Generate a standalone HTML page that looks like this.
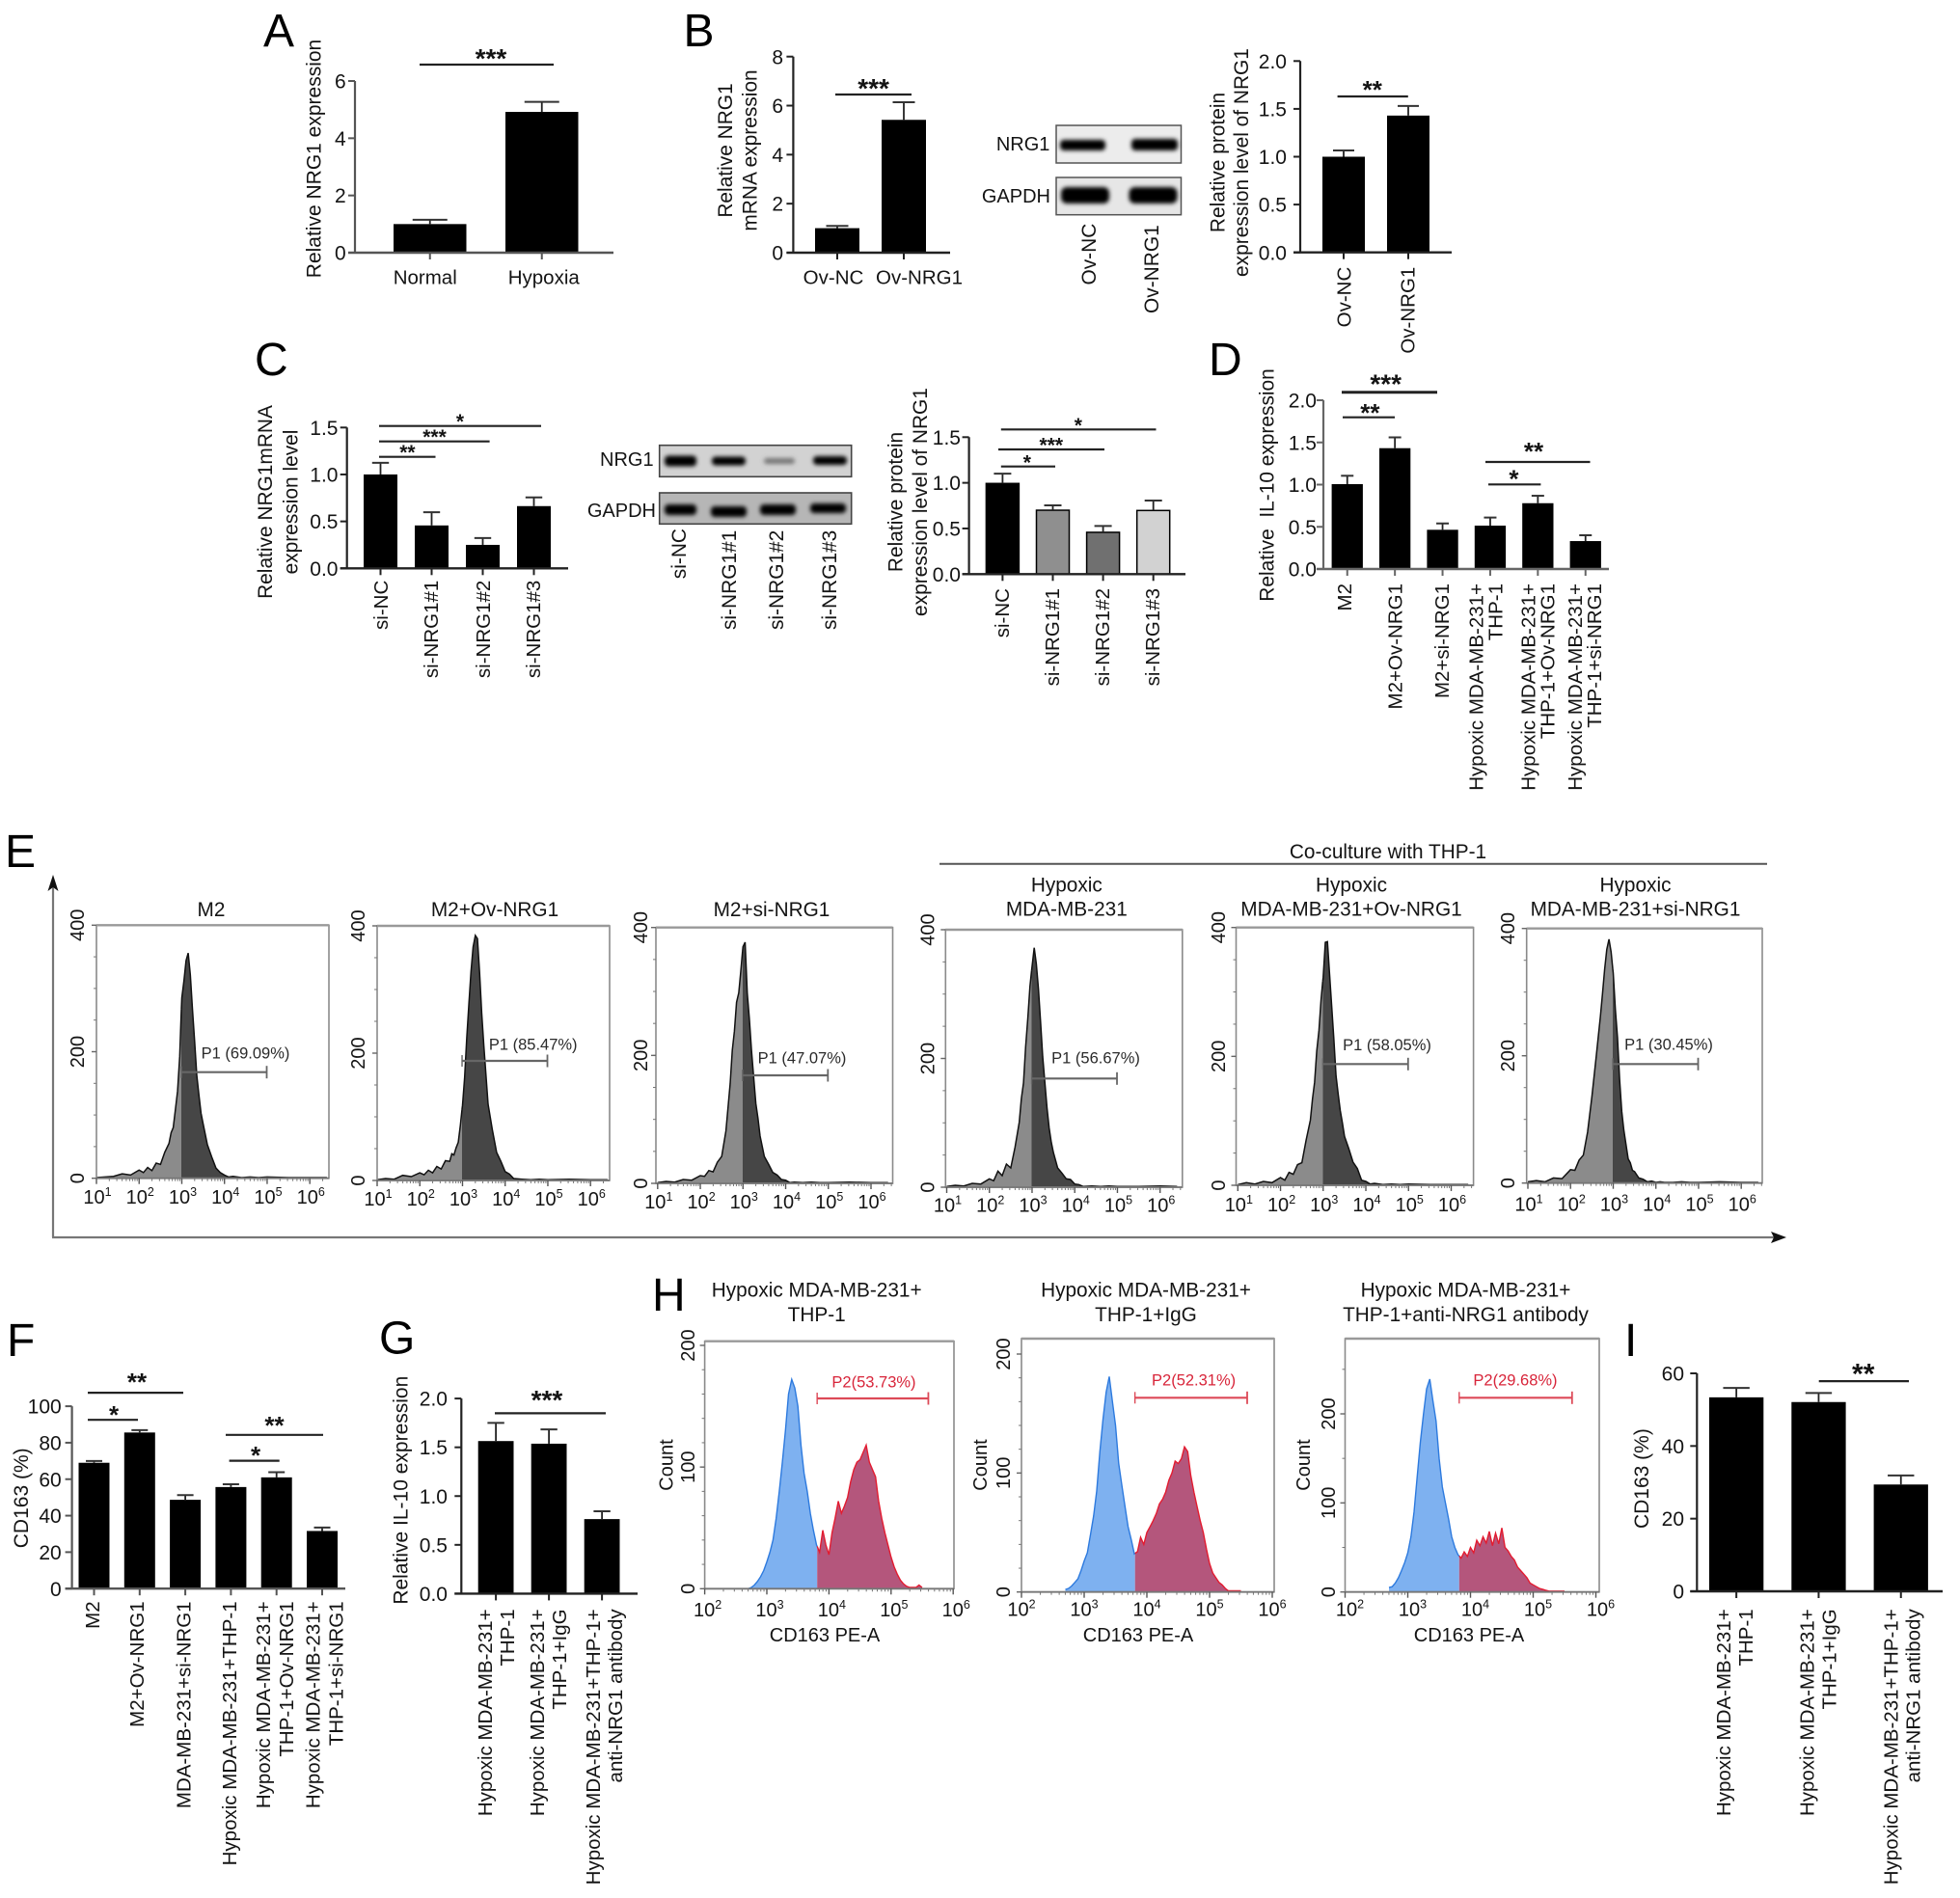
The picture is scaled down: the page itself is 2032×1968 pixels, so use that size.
<!DOCTYPE html>
<html lang="en">
<head>
<meta charset="utf-8">
<title>NRG1 figure</title>
<style>
html,body{margin:0;padding:0;background:#fff;}
svg{display:block;}
text{font-family:"Liberation Sans",sans-serif;fill:#141414;}
.letter{font-size:48px;fill:#000;}
.t20{font-size:20px;}
.t205{font-size:20.9px;}
.t208{font-size:20.8px;}
.t21{font-size:21px;}
.p1{font-size:16.5px;fill:#2a2a2a;}
.p2{font-size:16.5px;fill:#d8253a;}
</style>
</head>
<body>
<svg id="figure" xmlns="http://www.w3.org/2000/svg" width="2032" height="1968" viewBox="0 0 2032 1968">
<defs>
<filter id="blur1" x="-20%" y="-80%" width="140%" height="260%"><feGaussianBlur stdDeviation="2"/></filter>
</defs>
<rect x="0" y="0" width="2032" height="1968" fill="#fff"/>

<g id="panel-a">
<text class="letter" x="273" y="48">A</text>
<text class="t21" transform="translate(332.5,164.5) rotate(-90)" text-anchor="middle">Relative NRG1 expression</text>
</g>

<g id="panel-b-mrna">
<text class="letter" x="708.5" y="48">B</text>
<text class="t205" transform="translate(758.9,156) rotate(-90)" text-anchor="middle">Relative NRG1</text>
<text class="t205" transform="translate(784.4,156) rotate(-90)" text-anchor="middle">mRNA expression</text>
</g>

<g id="panel-b-blot">
<text class="t20" x="1088.4" y="156" text-anchor="end">NRG1</text>
<text class="t20" x="1089" y="210" text-anchor="end">GAPDH</text>
<rect x="1095" y="130" width="129.5" height="39" fill="#ececec" stroke="#555" stroke-width="1.5"/>
<rect x="1095" y="184" width="129.5" height="38.7" fill="#e6e6e6" stroke="#555" stroke-width="1.5"/>
<rect x="1099" y="145" width="47" height="11" rx="4" fill="#000" filter="url(#blur1)"/>
<rect x="1173" y="144" width="48" height="12" rx="4" fill="#000" filter="url(#blur1)"/>
<rect x="1100" y="194" width="50" height="17" rx="6" fill="#000" filter="url(#blur1)"/>
<rect x="1170.5" y="194" width="50" height="17" rx="6" fill="#000" filter="url(#blur1)"/>
<text class="t205" transform="translate(1135.8,231.7) rotate(-90)" text-anchor="end">Ov-NC</text>
<text class="t205" transform="translate(1201.2,233.3) rotate(-90)" text-anchor="end">Ov-NRG1</text>
</g>

<g id="panel-b-protein">
<text class="t205" transform="translate(1269.4,168.5) rotate(-90)" text-anchor="middle">Relative protein</text>
<text class="t205" transform="translate(1294,168.5) rotate(-90)" text-anchor="middle">expression level of NRG1</text>
</g>

<g id="panel-c-mrna">
<text class="letter" x="264" y="389">C</text>
<text class="t205" transform="translate(281.9,520.5) rotate(-90)" text-anchor="middle">Relative NRG1mRNA</text>
<text class="t205" transform="translate(308.4,520.5) rotate(-90)" text-anchor="middle">expression level</text>
</g>

<g id="panel-c-blot">
<text class="t20" x="677.6" y="483" text-anchor="end">NRG1</text>
<text class="t20" x="680" y="536" text-anchor="end">GAPDH</text>
<rect x="683.7" y="461.7" width="199" height="32.6" fill="#d2d2d2" stroke="#444" stroke-width="1.6"/>
<rect x="683.7" y="511" width="199" height="32.3" fill="#b6b6b6" stroke="#444" stroke-width="1.6"/>
<rect x="689" y="472.5" width="33" height="11" rx="4" fill="#000" filter="url(#blur1)"/>
<rect x="738" y="473.5" width="35" height="9" rx="4" fill="#000" filter="url(#blur1)"/>
<rect x="792" y="475" width="32" height="6" rx="3" fill="#777" filter="url(#blur1)"/>
<rect x="843" y="473" width="35" height="9" rx="4" fill="#000" filter="url(#blur1)"/>
<rect x="689" y="523" width="33" height="11" rx="4" fill="#000" filter="url(#blur1)"/>
<rect x="737" y="525" width="37" height="11" rx="4" fill="#000" filter="url(#blur1)"/>
<rect x="788" y="523" width="37" height="11" rx="4" fill="#000" filter="url(#blur1)"/>
<rect x="840" y="522" width="37" height="10" rx="4" fill="#000" filter="url(#blur1)"/>
<text class="t205" transform="translate(711.2,548) rotate(-90)" text-anchor="end">si-NC</text>
<text class="t205" transform="translate(763.2,549.7) rotate(-90)" text-anchor="end">si-NRG1#1</text>
<text class="t205" transform="translate(812.2,549.7) rotate(-90)" text-anchor="end">si-NRG1#2</text>
<text class="t205" transform="translate(866.9,549.7) rotate(-90)" text-anchor="end">si-NRG1#3</text>
</g>

<g id="panel-c-protein">
<text class="t205" transform="translate(935.4,520.5) rotate(-90)" text-anchor="middle">Relative protein</text>
<text class="t205" transform="translate(961,520.5) rotate(-90)" text-anchor="middle">expression level of NRG1</text>
</g>

<g id="panel-d">
<text class="letter" x="1253" y="389">D</text>
<text class="t205" transform="translate(1320.5,503) rotate(-90)" text-anchor="middle">Relative&#160; IL-10 expression</text>
</g>

<g id="panel-e">
<text class="letter" x="5" y="899">E</text>
<line x1="55" y1="918" x2="55" y2="1283" stroke="#777" stroke-width="2.2"/>
<polygon points="55,907 49.5,924 55,920 60.5,924" fill="#111"/>
<line x1="54" y1="1283" x2="1840" y2="1283" stroke="#777" stroke-width="2.2"/>
<polygon points="1852,1283 1836,1277 1839,1283 1836,1289" fill="#111"/>
<text class="t208" x="1439" y="890" text-anchor="middle">Co-culture with THP-1</text>
<line x1="974" y1="895.7" x2="1832" y2="895.7" stroke="#555" stroke-width="2"/>
<text class="t208" x="219" y="950" text-anchor="middle">M2</text>
<text class="t208" x="513" y="950" text-anchor="middle">M2+Ov-NRG1</text>
<text class="t208" x="800" y="950" text-anchor="middle">M2+si-NRG1</text>
<text class="t208" x="1105.8" y="924.5" text-anchor="middle">Hypoxic</text>
<text class="t208" x="1105.8" y="949.5" text-anchor="middle">MDA-MB-231</text>
<text class="t208" x="1401" y="924.5" text-anchor="middle">Hypoxic</text>
<text class="t208" x="1401" y="949.5" text-anchor="middle">MDA-MB-231+Ov-NRG1</text>
<text class="t208" x="1695.5" y="924.5" text-anchor="middle">Hypoxic</text>
<text class="t208" x="1695.5" y="949.5" text-anchor="middle">MDA-MB-231+si-NRG1</text>
</g>
<g id="flow-e1"></g>
<g id="flow-e2"></g>
<g id="flow-e3"></g>
<g id="flow-e4"></g>
<g id="flow-e5"></g>
<g id="flow-e6"></g>
<g>
<text class="p1" x="254.5" y="1097.5" text-anchor="middle">P1 (69.09%)</text>
<text class="p1" x="552.7" y="1088.5" text-anchor="middle">P1 (85.47%)</text>
<text class="p1" x="831.5" y="1102.5" text-anchor="middle">P1 (47.07%)</text>
<text class="p1" x="1136" y="1102.5" text-anchor="middle">P1 (56.67%)</text>
<text class="p1" x="1438" y="1089" text-anchor="middle">P1 (58.05%)</text>
<text class="p1" x="1730" y="1088.5" text-anchor="middle">P1 (30.45%)</text>
</g>

<g id="panel-f">
<text class="letter" x="7" y="1406">F</text>
<text class="t21" transform="translate(29,1553.3) rotate(-90)" text-anchor="middle">CD163 (%)</text>
</g>

<g id="panel-g">
<text class="letter" x="393" y="1403.3">G</text>
<text class="t21" transform="translate(422.5,1545.2) rotate(-90)" text-anchor="middle">Relative IL-10 expression</text>
</g>

<g id="panel-h">
<text class="letter" x="676" y="1359">H</text>
<text class="t208" x="846.7" y="1344.5" text-anchor="middle">Hypoxic MDA-MB-231+</text>
<text class="t208" x="846.7" y="1370" text-anchor="middle">THP-1</text>
<text class="t208" x="1188" y="1344.5" text-anchor="middle">Hypoxic MDA-MB-231+</text>
<text class="t208" x="1188" y="1370" text-anchor="middle">THP-1+IgG</text>
<text class="t208" x="1519.5" y="1344.5" text-anchor="middle">Hypoxic MDA-MB-231+</text>
<text class="t208" x="1519.5" y="1370" text-anchor="middle">THP-1+anti-NRG1 antibody</text>
<text class="t20" transform="translate(697.6,1519) rotate(-90)" text-anchor="middle">Count</text>
<text class="t20" transform="translate(1023.2,1519) rotate(-90)" text-anchor="middle">Count</text>
<text class="t20" transform="translate(1358.2,1519) rotate(-90)" text-anchor="middle">Count</text>
<text class="t20" x="855" y="1702" text-anchor="middle">CD163 PE-A</text>
<text class="t20" x="1180" y="1702" text-anchor="middle">CD163 PE-A</text>
<text class="t20" x="1523" y="1702" text-anchor="middle">CD163 PE-A</text>
</g>
<g id="flow-h1"></g>
<g id="flow-h2"></g>
<g id="flow-h3"></g>
<g>
<text class="p2" x="906" y="1438.5" text-anchor="middle">P2(53.73%)</text>
<text class="p2" x="1237.6" y="1436.5" text-anchor="middle">P2(52.31%)</text>
<text class="p2" x="1571" y="1436.5" text-anchor="middle">P2(29.68%)</text>
</g>

<g id="panel-i">
<text class="letter" x="1684" y="1405.8">I</text>
<text class="t21" transform="translate(1709,1533.1) rotate(-90)" text-anchor="middle">CD163 (%)</text>
</g>
</svg>

<script>
/* ---------- Bar chart data ---------- */
const panelACategories = ['Normal', 'Hypoxia'];
const panelAValues = [1.0, 4.92];
const panelAErrors = [0.15, 0.35];
const panelATicks = [0, 2, 4, 6];
const panelATickLabels = ['0', '2', '4', '6'];

const panelBMrnaCategories = ['Ov-NC', 'Ov-NRG1'];
const panelBMrnaValues = [1.0, 5.42];
const panelBMrnaErrors = [0.09, 0.72];
const panelBMrnaTicks = [0, 2, 4, 6, 8];
const panelBMrnaTickLabels = ['0', '2', '4', '6', '8'];

const panelBProteinCategories = ['Ov-NC', 'Ov-NRG1'];
const panelBProteinValues = [1.0, 1.43];
const panelBProteinErrors = [0.065, 0.10];
const panelBProteinTicks = [0, 0.5, 1, 1.5, 2];
const panelBProteinTickLabels = ['0.0', '0.5', '1.0', '1.5', '2.0'];

const panelCMrnaCategories = ['si-NC', 'si-NRG1#1', 'si-NRG1#2', 'si-NRG1#3'];
const panelCMrnaValues = [1.0, 0.457, 0.25, 0.663];
const panelCMrnaErrors = [0.124, 0.141, 0.073, 0.093];
const panelCMrnaTicks = [0, 0.5, 1, 1.5];
const panelCMrnaTickLabels = ['0.0', '0.5', '1.0', '1.5'];

const panelCProteinCategories = ['si-NC', 'si-NRG1#1', 'si-NRG1#2', 'si-NRG1#3'];
const panelCProteinValues = [0.993, 0.70, 0.458, 0.697];
const panelCProteinErrors = [0.107, 0.053, 0.07, 0.109];
const panelCProteinTicks = [0, 0.5, 1, 1.5];
const panelCProteinTickLabels = ['0.0', '0.5', '1.0', '1.5'];

const panelDCategories = ['M2', 'M2+Ov-NRG1', 'M2+si-NRG1', 'Hypoxic MDA-MB-231+|THP-1', 'Hypoxic MDA-MB-231+|THP-1+Ov-NRG1', 'Hypoxic MDA-MB-231+|THP-1+si-NRG1'];
const panelDValues = [1.006, 1.432, 0.465, 0.514, 0.78, 0.331];
const panelDErrors = [0.099, 0.128, 0.075, 0.096, 0.088, 0.069];
const panelDTicks = [0, 0.5, 1, 1.5, 2];
const panelDTickLabels = ['0.0', '0.5', '1.0', '1.5', '2.0'];

const panelFCategories = ['M2', 'M2+Ov-NRG1', 'MDA-MB-231+si-NRG1', 'Hypoxic MDA-MB-231+THP-1', 'Hypoxic MDA-MB-231+|THP-1+Ov-NRG1', 'Hypoxic MDA-MB-231+|THP-1+si-NRG1'];
const panelFValues = [69, 85.6, 48.7, 55.7, 61, 31.6];
const panelFErrors = [1.0, 1.3, 2.6, 1.5, 2.8, 1.9];
const panelFTicks = [0, 20, 40, 60, 80, 100];
const panelFTickLabels = ['0', '20', '40', '60', '80', '100'];

const panelGCategories = ['Hypoxic MDA-MB-231+|THP-1', 'Hypoxic MDA-MB-231+|THP-1+IgG', 'Hypoxic MDA-MB-231+THP-1+|anti-NRG1 antibody'];
const panelGValues = [1.564, 1.537, 0.764];
const panelGErrors = [0.186, 0.146, 0.08];
const panelGTicks = [0, 0.5, 1, 1.5, 2];
const panelGTickLabels = ['0.0', '0.5', '1.0', '1.5', '2.0'];

const panelICategories = ['Hypoxic MDA-MB-231+|THP-1', 'Hypoxic MDA-MB-231+|THP-1+IgG', 'Hypoxic MDA-MB-231+THP-1+|anti-NRG1 antibody'];
const panelIValues = [53.4, 52.1, 29.4];
const panelIErrors = [2.6, 2.5, 2.5];
const panelITicks = [0, 20, 40, 60];
const panelITickLabels = ['0', '20', '40', '60'];

/* ---------- Flow histogram data (log10 fluorescence bins, event counts) ---------- */
const logBinsE = [1.0,1.2,1.4,1.6,1.8,2.0,2.1,2.2,2.3,2.4,2.5,2.6,2.7,2.75,2.8,2.85,2.9,2.95,3.0,3.05,3.1,3.15,3.2,3.25,3.3,3.35,3.4,3.45,3.5,3.6,3.7,3.8,3.9,4.0,4.1,4.2,4.4,4.6,4.8,5.0,5.5,6.0,6.4];
const countsE1 = [1,2,3,7,5,13,9,17,12,24,22,41,55,72,80,108,138,192,285,312,344,356,322,268,216,163,132,103,86,53,34,16,9,5,2,3,1,2,1,2,1,1,1];
const countsE2 = [1,3,2,8,6,12,9,16,12,22,18,31,30,42,40,51,60,87,118,162,224,277,328,367,385,380,327,263,212,120,80,44,30,14,10,3,2,1,2,1,2,1,1];
const countsE3 = [1,3,2,6,5,12,11,20,18,33,42,82,156,208,238,283,298,333,370,377,298,257,208,167,125,102,74,58,42,30,17,13,6,5,1,2,1,2,1,1,2,1,1];
const countsE4 = [1,3,2,6,5,13,10,25,18,36,30,62,101,138,162,218,263,312,343,372,347,308,257,203,162,123,92,70,54,30,22,13,12,5,4,1,2,1,2,1,1,2,1];
const countsE5 = [1,4,2,6,4,12,8,20,17,32,35,70,101,134,160,208,240,288,323,377,378,328,278,228,170,142,116,97,76,57,36,26,8,6,2,3,1,2,1,2,1,1,1];
const countsE6 = [2,4,2,8,7,21,20,36,44,80,136,198,262,298,336,367,383,363,330,273,229,163,113,83,60,38,32,20,18,8,6,2,3,1,2,1,1,2,1,1,2,1,1];

const logBinsH = [2.70,2.75,2.80,2.85,2.90,2.95,3.00,3.05,3.10,3.15,3.20,3.25,3.30,3.35,3.40,3.45,3.50,3.55,3.60,3.65,3.70,3.75,3.80,3.85,3.90,3.95,4.00,4.05,4.10,4.15,4.20,4.25,4.30,4.35,4.40,4.45,4.50,4.55,4.60,4.65,4.70,4.75,4.80,4.85,4.90,4.95,5.00,5.05,5.10,5.15,5.20,5.25,5.30,5.35,5.40,5.45,5.50];
const countsH1 = [0,1,3,6,10,15,22,30,40,58,80,104,130,160,172,165,150,118,95,80,62,48,36,30,48,36,28,46,58,72,62,68,75,88,98,104,106,112,118,104,98,92,72,58,46,36,26,18,12,7,4,2,1,1,1,3,1];
const countsH2 = [2,3,5,8,11,18,26,33,48,64,85,118,145,168,181,160,140,108,90,72,55,44,32,34,46,40,50,55,60,66,74,78,84,94,100,110,108,112,122,118,98,84,72,60,50,36,24,16,12,8,6,3,1,1,1,1,1];
const countsH3 = [5,6,10,16,24,33,44,62,90,130,168,200,228,239,215,192,150,118,100,82,62,50,42,38,45,40,50,44,58,52,62,55,68,52,66,54,72,50,46,40,36,28,24,20,16,10,8,6,4,3,2,1,1,1,1,1,1];

const flowDecadesE = [1, 2, 3, 4, 5, 6];
const flowDecadesH = [2, 3, 4, 5, 6];
const flowCountTicksE = [0, 200, 400];
const flowCountTicksH = [0, 100, 200];

/* ---------- Helpers ---------- */
const SVG_NS = 'http://www.w3.org/2000/svg';
function node(tag, parent, name) {
  const el = document.createElementNS(SVG_NS, tag);
  
  
  parent.appendChild(el);
  return el;
}
function line(parent, name, x1, y1, x2, y2, color, width) {
  const el = node('line', parent, name);
  el.setAttribute('x1', x1);
  el.setAttribute('y1', y1);
  el.setAttribute('x2', x2);
  el.setAttribute('y2', y2);
  el.setAttribute('stroke', color);
  el.setAttribute('stroke-width', width);
  return el;
}
function hText(parent, name, x, yCenter, str, anchor, size) {
  const el = node('text', parent, name);
  el.setAttribute('x', x);
  el.setAttribute('y', yCenter + 0.36 * size);
  el.setAttribute('text-anchor', anchor);
  el.setAttribute('font-size', size);
  el.textContent = str;
  return el;
}
function vText(parent, name, xCenter, y, str, anchor, size) {
  const el = node('text', parent, name);
  el.setAttribute('transform', 'translate(' + (xCenter + 0.36 * size) + ',' + y + ') rotate(-90)');
  el.setAttribute('text-anchor', anchor);
  el.setAttribute('font-size', size);
  el.textContent = str;
  return el;
}
function slug(s) {
  return String(s).toLowerCase().replace(/[^a-z0-9]+/g, '-').replace(/^-|-$/g, '');
}

/* ---------- Bar chart ---------- */
function drawBarChart(groupId, categories, values, errors, ticks, tickLabels, L) {
  const g = document.getElementById(groupId);
  const yScale = v => L.y0 - (v / L.yMax) * (L.y0 - L.yTop);
  const xLeft = i => L.firstBar + i * L.step;
  const color = L.axisColor || '#222';

  values.forEach((v, i) => {
    const bar = node('rect', g, 'bar-' + slug(categories[i]));
    const top = yScale(v);
    bar.setAttribute('x', xLeft(i));
    bar.setAttribute('y', top);
    bar.setAttribute('width', L.barW);
    bar.setAttribute('height', Math.max(0, L.y0 - top));
    bar.setAttribute('fill', L.fills ? L.fills[i] : '#000');
    if (L.fills) {
      bar.setAttribute('stroke', '#000');
      bar.setAttribute('stroke-width', '1.5');
    }
    const cx = xLeft(i) + L.barW / 2;
    const errTop = yScale(v + errors[i]);
    line(g, 'error-bar-stem', cx, top, cx, errTop, '#222', 1.8);
    line(g, 'error-bar-cap', cx - L.capHalf, errTop, cx + L.capHalf, errTop, '#333', 2);
  });

  line(g, 'y-axis-line', L.axisX, L.yTop, L.axisX, L.y0, color, 2.2);
  line(g, 'x-axis-line', L.axisX - 7, L.y0, L.xEnd, L.y0, color, 2.4);

  ticks.forEach((t, i) => {
    const y = yScale(t);
    line(g, 'y-tick', L.axisX - 7, y, L.axisX, y, color, 2);
    hText(g, 'y-tick-label', L.tickRight, y, tickLabels[i], 'end', 21);
  });

  categories.forEach((c, i) => {
    const cx = xLeft(i) + L.barW / 2;
    line(g, 'x-tick', cx, L.y0, cx, L.y0 + 7, color, 2);
    const lx = cx + (L.catDx ? L.catDx[i] : 0);
    if (L.catHorizontal) {
      hText(g, 'x-tick-label', lx, L.catY, c, 'middle', 20.5);
    } else {
      const parts = c.split('|');
      parts.forEach((p, k) => {
        const off = parts.length === 2 ? (k === 0 ? -L.lineGap / 2 : L.lineGap / 2) : 0;
        vText(g, 'x-tick-label', lx + off, L.catY, p, 'end', 20.5);
      });
    }
  });

  (L.sig || []).forEach(s => {
    line(g, 'significance-line', s.x1, s.y, s.x2, s.y, '#222', s.w || 2.2);
    const star = node('text', g, 'significance-stars');
    star.setAttribute('x', s.sx);
    star.setAttribute('y', s.sy + 0.57 * s.fs);
    star.setAttribute('text-anchor', 'middle');
    star.setAttribute('font-size', s.fs);
    star.setAttribute('font-weight', 'bold');
    star.textContent = s.text;
  });
}

/* ---------- Flow histogram ---------- */
function drawHistogram(groupId, bins, counts, decades, countTicks, C) {
  const g = document.getElementById(groupId);
  const xScale = log => C.x0 + (log - C.logMin) * C.decade;
  const yScale = c => C.b - c * (C.b - C.yRef) / C.refVal;
  const n = Math.min(bins.length, counts.length);
  const gate = C.gateStart;

  const left = [], right = [];
  for (let i = 0; i < n; i++) {
    if (bins[i] <= gate) left.push([xScale(bins[i]), yScale(counts[i])]);
    if (i < n - 1 && bins[i] <= gate && bins[i + 1] > gate) {
      const f = (gate - bins[i]) / (bins[i + 1] - bins[i]);
      const p = [xScale(gate), yScale(counts[i] + f * (counts[i + 1] - counts[i]))];
      left.push(p);
      right.push(p);
    }
    if (bins[i] > gate) right.push([xScale(bins[i]), yScale(counts[i])]);
  }
  const str = pts => pts.map(p => p[0].toFixed(1) + ',' + p[1].toFixed(1)).join(' ');
  const closed = pts => pts.length ? str(pts) + ' ' + pts[pts.length - 1][0].toFixed(1) + ',' + C.b + ' ' + pts[0][0].toFixed(1) + ',' + C.b : '';

  const fillL = node('polygon', g, 'histogram-area-negative');
  fillL.setAttribute('points', closed(left));
  fillL.setAttribute('fill', C.fillLeft);
  const fillR = node('polygon', g, 'histogram-area-gated');
  fillR.setAttribute('points', closed(right));
  fillR.setAttribute('fill', C.fillRight);
  const lineL = node('polyline', g, 'histogram-outline-negative');
  lineL.setAttribute('points', str(left));
  lineL.setAttribute('fill', 'none');
  lineL.setAttribute('stroke', C.strokeLeft);
  lineL.setAttribute('stroke-width', C.outlineW);
  const lineR = node('polyline', g, 'histogram-outline-gated');
  lineR.setAttribute('points', str(right));
  lineR.setAttribute('fill', 'none');
  lineR.setAttribute('stroke', C.strokeRight);
  lineR.setAttribute('stroke-width', C.outlineW);

  const frame = node('rect', g, 'plot-frame');
  frame.setAttribute('x', C.l);
  frame.setAttribute('y', C.t);
  frame.setAttribute('width', C.r - C.l);
  frame.setAttribute('height', C.b - C.t);
  frame.setAttribute('fill', 'none');
  frame.setAttribute('stroke', '#8a8a8a');
  frame.setAttribute('stroke-width', '1.6');
  line(g, 'plot-frame-top', C.l, C.t, C.r, C.t, '#999', 2.4);
  line(g, 'plot-baseline', C.l, C.b, C.r, C.b, '#777', 1.8);

  decades.forEach(d => {
    const x = xScale(d);
    line(g, 'x-major-tick', x, C.b, x, C.b + 6, '#555', 1.4);
    const lab = node('text', g, 'x-tick-label');
    lab.setAttribute('x', x + C.labelDx);
    lab.setAttribute('y', C.b + C.labelDy);
    lab.setAttribute('text-anchor', 'middle');
    lab.setAttribute('font-size', '20');
    lab.textContent = '10';
    const sup = node('tspan', lab, 'x-tick-exponent');
    sup.setAttribute('dy', '-8');
    sup.setAttribute('font-size', '12.5');
    sup.textContent = String(d);
    for (let k = 2; k < 10; k++) {
      const mx = xScale(d + Math.log10(k));
      if (mx <= C.r) line(g, 'x-minor-tick', mx, C.b, mx, C.b + 3, '#777', 1);
    }
  });

  for (let c = C.minorStep; yScale(c) > C.t; c += C.minorStep) {
    line(g, 'y-minor-tick', C.l - 3, yScale(c), C.l, yScale(c), '#777', 1);
  }
  countTicks.forEach(t => {
    if (yScale(t) < C.t - 6) return;
    line(g, 'y-major-tick', C.l - 5, yScale(t), C.l, yScale(t), '#666', 1.4);
    vText(g, 'y-tick-label', C.yLabelX, yScale(t) + (C.yLabelDy || 0), String(t), 'middle', 20);
  });

  const gy = C.gateY;
  const gx1 = xScale(C.gateStart), gx2 = xScale(C.gateEnd);
  line(g, 'gate-line', gx1, gy, gx2, gy, C.gateColor, 2.2);
  line(g, 'gate-cap-start', gx1, gy - 6, gx1, gy + 6, C.gateColor, 1.4);
  line(g, 'gate-cap-end', gx2, gy - 6.5, gx2, gy + 6.5, C.gateColor, 1.8);
}

/* ---------- Render bar charts ---------- */
drawBarChart('panel-a', panelACategories, panelAValues, panelAErrors, panelATicks, panelATickLabels, {
  axisX: 368, y0: 262, yTop: 84, yMax: 6, xEnd: 636, firstBar: 408, step: 116, barW: 75.5, capHalf: 18,
  tickRight: 358.7, catHorizontal: true, catY: 287, catDx: [-5, 2], axisColor: '#555',
  sig: [{ x1: 435, x2: 574, y: 67, sx: 509, sy: 54, text: '***', fs: 28 }]
});
drawBarChart('panel-b-mrna', panelBMrnaCategories, panelBMrnaValues, panelBMrnaErrors, panelBMrnaTicks, panelBMrnaTickLabels, {
  axisX: 822.4, y0: 262, yTop: 58.7, yMax: 8, xEnd: 985, firstBar: 845, step: 69, barW: 46, capHalf: 11.5,
  tickRight: 812, catHorizontal: true, catY: 287, catDx: [-4, 16],
  sig: [{ x1: 866, x2: 945, y: 98, sx: 905.6, sy: 85, text: '***', fs: 28 }]
});
drawBarChart('panel-b-protein', panelBProteinCategories, panelBProteinValues, panelBProteinErrors, panelBProteinTicks, panelBProteinTickLabels, {
  axisX: 1348, y0: 261.7, yTop: 63.3, yMax: 2, xEnd: 1505, firstBar: 1371, step: 67, barW: 44, capHalf: 11,
  catY: 276.7, catDx: [0, -1], tickRight: 1334, lineGap: 23,
  sig: [{ x1: 1386.6, x2: 1459.8, y: 100, sx: 1422.8, sy: 87, text: '**', fs: 26 }]
});
drawBarChart('panel-c-mrna', panelCMrnaCategories, panelCMrnaValues, panelCMrnaErrors, panelCMrnaTicks, panelCMrnaTickLabels, {
  axisX: 359.7, y0: 589.3, yTop: 443.3, yMax: 1.5, xEnd: 589, firstBar: 377, step: 53, barW: 35, capHalf: 8.7,
  tickRight: 350.5, catY: 601.7, catDx: [0, -1, 0, -1], lineGap: 23,
  sig: [
    { x1: 393, x2: 561, y: 441.7, sx: 477, sy: 432, text: '*', fs: 21 },
    { x1: 393, x2: 507.6, y: 457.7, sx: 450.5, sy: 448, text: '***', fs: 21 },
    { x1: 393, x2: 451.5, y: 473.7, sx: 422.4, sy: 464, text: '**', fs: 21 }
  ]
});
drawBarChart('panel-c-protein', panelCProteinCategories, panelCProteinValues, panelCProteinErrors, panelCProteinTicks, panelCProteinTickLabels, {
  axisX: 1004.6, y0: 595.3, yTop: 453.3, yMax: 1.5, xEnd: 1229, firstBar: 1022.4, step: 52.1, barW: 34, capHalf: 9,
  tickRight: 996, catY: 610, catDx: [-1, -1, -1, -1], lineGap: 23,
  fills: ['#000', '#8f8f8f', '#707070', '#d2d2d2'],
  sig: [
    { x1: 1037.8, x2: 1198.5, y: 445.3, sx: 1117.9, sy: 436, text: '*', fs: 21 },
    { x1: 1035, x2: 1145, y: 466, sx: 1089.8, sy: 456.7, text: '***', fs: 21 },
    { x1: 1037.8, x2: 1094, y: 483.7, sx: 1064.8, sy: 474.3, text: '*', fs: 21 }
  ]
});
drawBarChart('panel-d', panelDCategories, panelDValues, panelDErrors, panelDTicks, panelDTickLabels, {
  axisX: 1372, y0: 590, yTop: 415, yMax: 2, xEnd: 1668, firstBar: 1380.6, step: 49.4, barW: 32.3, capHalf: 6.5,
  tickRight: 1365, catY: 605, catDx: [-3, 0, -1, -5, 0, -1], lineGap: 20, axisColor: '#666',
  sig: [
    { x1: 1391, x2: 1490, y: 406.7, sx: 1436.7, sy: 391.7, text: '***', fs: 28, w: 3 },
    { x1: 1392, x2: 1446, y: 432.7, sx: 1420.4, sy: 422, text: '**', fs: 26 },
    { x1: 1540, x2: 1648.5, y: 479, sx: 1590, sy: 462, text: '**', fs: 26 },
    { x1: 1543, x2: 1597.4, y: 502.3, sx: 1569.4, sy: 490.7, text: '*', fs: 26 }
  ]
});
drawBarChart('panel-f', panelFCategories, panelFValues, panelFErrors, panelFTicks, panelFTickLabels, {
  axisX: 74.6, y0: 1647.2, yTop: 1458.1, yMax: 100, xEnd: 358, firstBar: 81.5, step: 47.3, barW: 32, capHalf: 8.5,
  tickRight: 63.7, catY: 1660.4, catDx: [-2, -3, -2, -2, -2, 2], lineGap: 24, axisColor: '#555',
  sig: [
    { x1: 91, x2: 190, y: 1444.1, sx: 142, sy: 1427.3, text: '**', fs: 26 },
    { x1: 91, x2: 143, y: 1472.2, sx: 118, sy: 1461, text: '*', fs: 26 },
    { x1: 234, x2: 335, y: 1487.8, sx: 284.5, sy: 1472.2, text: '**', fs: 26 },
    { x1: 237.6, x2: 289.7, y: 1514.6, sx: 265, sy: 1503, text: '*', fs: 26 }
  ]
});
drawBarChart('panel-g', panelGCategories, panelGValues, panelGErrors, panelGTicks, panelGTickLabels, {
  axisX: 478.3, y0: 1652.4, yTop: 1450.1, yMax: 2, xEnd: 661, firstBar: 495.7, step: 55, barW: 36.8, capHalf: 8.7,
  tickRight: 464, catY: 1668.4, catDx: [0, -1, 2], lineGap: 23,
  sig: [{ x1: 513, x2: 628, y: 1465.4, sx: 567, sy: 1444.9, text: '***', fs: 28 }]
});
drawBarChart('panel-i', panelICategories, panelIValues, panelIErrors, panelITicks, panelITickLabels, {
  axisX: 1759.3, y0: 1650, yTop: 1424, yMax: 60, xEnd: 2014, firstBar: 1772, step: 85.3, barW: 56.3, capHalf: 13.7,
  tickRight: 1746, catY: 1668.3, catDx: [-2, -1, 1], lineGap: 23,
  sig: [{ x1: 1885.7, x2: 1979, y: 1432.1, sx: 1931.7, sy: 1417.4, text: '**', fs: 30 }]
});

/* ---------- Render flow histograms ---------- */
const styleE = { logMin: 1, decade: 44.24, refVal: 400, fillLeft: '#8b8b8b', fillRight: '#464646', strokeLeft: '#111', strokeRight: '#111', outlineW: 1.5, gateColor: '#666', gateStart: 2.99, gateEnd: 4.99, minorStep: 50, labelDx: 1 };
const styleH = { logMin: 2, decade: 65, refVal: 200, fillLeft: '#7eb1f0', fillRight: '#b4567c', strokeLeft: '#2d7ade', strokeRight: '#e31b30', outlineW: 1.4, gateColor: '#dd4a58', gateStart: 3.81, gateEnd: 5.6, minorStep: 20 };

drawHistogram('flow-e1', logBinsE, countsE1, flowDecadesE, flowCountTicksE, Object.assign({}, styleE, { l: 100, r: 341, t: 959.3, b: 1221.7, x0: 100, yRef: 959.3, gateY: 1111.7, labelDy: 26.5, yLabelX: 80 }));
drawHistogram('flow-e2', logBinsE, countsE2, flowDecadesE, flowCountTicksE, Object.assign({}, styleE, { l: 391, r: 632, t: 960, b: 1224, x0: 391, yRef: 960, gateY: 1100, labelDy: 26, yLabelX: 371 }));
drawHistogram('flow-e3', logBinsE, countsE3, flowDecadesE, flowCountTicksE, Object.assign({}, styleE, { l: 680, r: 925.5, t: 961.7, b: 1227, x0: 681.8, yRef: 961.7, gateY: 1115, labelDy: 26, yLabelX: 663.6 }));
drawHistogram('flow-e4', logBinsE, countsE4, flowDecadesE, flowCountTicksE, Object.assign({}, styleE, { l: 980.3, r: 1225.8, t: 964, b: 1231, x0: 981.5, yRef: 964, gateY: 1118.3, labelDy: 25.7, yLabelX: 961.5 }));
drawHistogram('flow-e5', logBinsE, countsE5, flowDecadesE, flowCountTicksE, Object.assign({}, styleE, { l: 1281.5, r: 1527.6, t: 961.7, b: 1229, x0: 1283.3, yRef: 961.7, gateY: 1103.3, labelDy: 27, yLabelX: 1263 }));
drawHistogram('flow-e6', logBinsE, countsE6, flowDecadesE, flowCountTicksE, Object.assign({}, styleE, { l: 1582.7, r: 1827, t: 962.7, b: 1226.7, x0: 1584, yRef: 962.7, gateY: 1103.3, labelDy: 29, yLabelX: 1563 }));

drawHistogram('flow-h1', logBinsH, countsH1, flowDecadesH, flowCountTicksH, Object.assign({}, styleH, { l: 730.6, r: 989, t: 1390.7, b: 1647.3, x0: 730.6, decade: 64.4, yRef: 1395, gateY: 1450, labelDy: 28.7, labelDx: 3, yLabelX: 713 }));
drawHistogram('flow-h2', logBinsH, countsH2, flowDecadesH, flowCountTicksH, Object.assign({}, styleH, { l: 1059, r: 1321, t: 1388, b: 1650.7, x0: 1059, yRef: 1404, gateY: 1449.3, labelDy: 25, labelDx: 0, yLabelX: 1040 }));
drawHistogram('flow-h3', logBinsH, countsH3, flowDecadesH, flowCountTicksH, Object.assign({}, styleH, { l: 1394.5, r: 1658, t: 1388, b: 1650.7, x0: 1394.5, yRef: 1466, gateY: 1449.3, gateStart: 3.82, gateEnd: 5.62, labelDy: 25, labelDx: 5, yLabelX: 1376.6, minorStep: 50 }));
</script>
</body>
</html>
